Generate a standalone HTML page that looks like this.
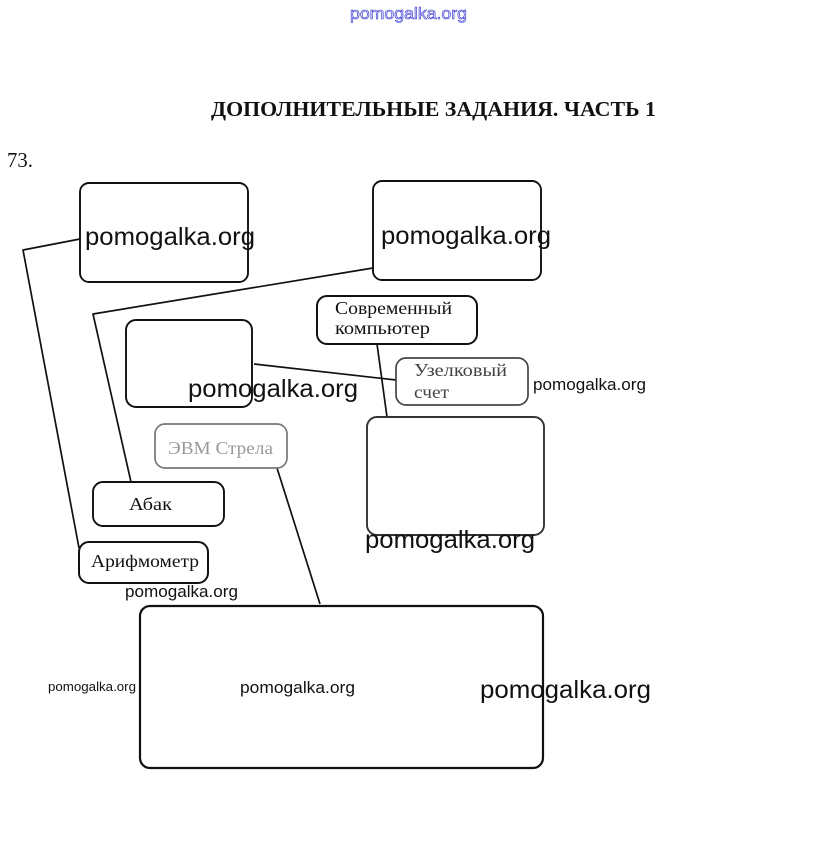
<!DOCTYPE html>
<html><head><meta charset="utf-8"><style>
html,body{margin:0;padding:0;background:#fff;width:815px;height:865px;overflow:hidden}
svg{display:block}
.s{font-family:"Liberation Serif","Noto Serif CJK SC",serif;fill:#111}
.w{font-family:"Liberation Sans","DejaVu Sans",sans-serif;fill:#111}
</style></head><body>
<svg width="815" height="865" viewBox="0 0 815 865" xmlns="http://www.w3.org/2000/svg">
<rect width="815" height="865" fill="#fff"/>
<text x="350" y="19" font-family="Liberation Sans, sans-serif" font-size="17" fill="#e4e4f8" stroke="#3030d0" stroke-width="0.6" textLength="117" lengthAdjust="spacingAndGlyphs">pomogalka.org</text>
<text class="s" x="211" y="116" font-size="21" font-weight="bold" textLength="445" lengthAdjust="spacingAndGlyphs">ДОПОЛНИТЕЛЬНЫЕ ЗАДАНИЯ. ЧАСТЬ 1</text>
<text class="s" x="7" y="167" font-size="21" textLength="26" lengthAdjust="spacingAndGlyphs">73.</text>
<g fill="none" stroke="#111" stroke-width="1.7" stroke-linejoin="round">
<polyline points="80,239 23,250 79,548"/>
<polyline points="373,268 93,314 131,482"/>
<line x1="254" y1="364" x2="396" y2="380"/>
<line x1="377" y1="344" x2="387" y2="417"/>
<line x1="277" y1="468" x2="320" y2="604"/>
<rect x="80" y="183" width="168" height="99" rx="9" stroke-width="1.9"/>
<rect x="373" y="181" width="168" height="99" rx="9" stroke-width="1.9"/>
<rect x="126" y="320" width="126" height="87" rx="10" stroke-width="1.9"/>
<rect x="317" y="296" width="160" height="48" rx="10" stroke-width="2"/>
<rect x="93" y="482" width="131" height="44" rx="10" stroke-width="1.9"/>
<rect x="79" y="542" width="129" height="41" rx="10" stroke-width="2"/>
<rect x="140" y="606" width="403" height="162" rx="10" stroke-width="2.2"/>
<rect x="396" y="358" width="132" height="47" rx="10" stroke="#444"/>
<rect x="367" y="417" width="177" height="118" rx="10" stroke="#333" stroke-width="1.9"/>
<rect x="155" y="424" width="132" height="44" rx="10" stroke="#777"/>
</g>
<text class="s" x="335" y="314" font-size="18" textLength="117" lengthAdjust="spacingAndGlyphs">Современный</text>
<text class="s" x="335" y="334" font-size="18" textLength="95" lengthAdjust="spacingAndGlyphs">компьютер</text>
<text class="s" x="414" y="376" font-size="18" style="fill:#444" textLength="93" lengthAdjust="spacingAndGlyphs">Узелковый</text>
<text class="s" x="414" y="398" font-size="18" style="fill:#444" textLength="35" lengthAdjust="spacingAndGlyphs">счет</text>
<text class="s" x="168" y="454" font-size="18" style="fill:#999" textLength="105" lengthAdjust="spacingAndGlyphs">ЭВМ Стрела</text>
<text class="s" x="129" y="510" font-size="18" textLength="43" lengthAdjust="spacingAndGlyphs">Абак</text>
<text class="s" x="91" y="567" font-size="18" textLength="108" lengthAdjust="spacingAndGlyphs">Арифмометр</text>
<text class="w" x="85" y="245" font-size="25" textLength="170" lengthAdjust="spacingAndGlyphs">pomogalka.org</text>
<text class="w" x="381" y="244" font-size="25" textLength="170" lengthAdjust="spacingAndGlyphs">pomogalka.org</text>
<text class="w" x="188" y="397" font-size="25" textLength="170" lengthAdjust="spacingAndGlyphs">pomogalka.org</text>
<text class="w" x="533" y="390" font-size="17" textLength="113" lengthAdjust="spacingAndGlyphs">pomogalka.org</text>
<text class="w" x="365" y="548" font-size="25" textLength="170" lengthAdjust="spacingAndGlyphs">pomogalka.org</text>
<text class="w" x="125" y="597" font-size="17" textLength="113" lengthAdjust="spacingAndGlyphs">pomogalka.org</text>
<text class="w" x="48" y="691" font-size="13" textLength="88" lengthAdjust="spacingAndGlyphs">pomogalka.org</text>
<text class="w" x="240" y="693" font-size="17" textLength="115" lengthAdjust="spacingAndGlyphs">pomogalka.org</text>
<text class="w" x="480" y="698" font-size="25" textLength="171" lengthAdjust="spacingAndGlyphs">pomogalka.org</text>
</svg>
</body></html>
